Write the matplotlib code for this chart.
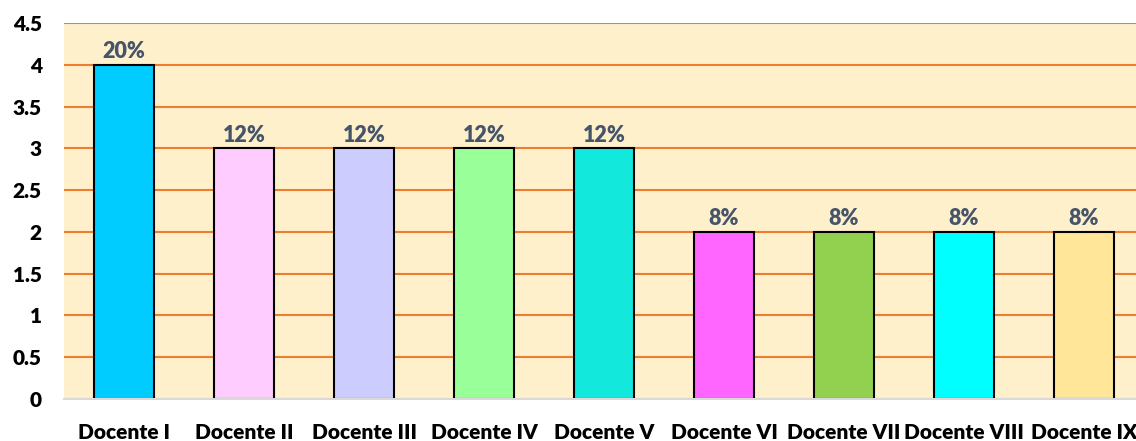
import matplotlib
matplotlib.use("Agg")
import matplotlib.pyplot as plt

categories = ["Docente I", "Docente II", "Docente III", "Docente IV", "Docente V",
              "Docente VI", "Docente VII", "Docente VIII", "Docente IX"]
values = [4, 3, 3, 3, 3, 2, 2, 2, 2]
pct_labels = ["20%", "12%", "12%", "12%", "12%", "8%", "8%", "8%", "8%"]
colors = ["#00CCFF", "#FFCCFF", "#CCCCFF", "#99FF99", "#13E8DC",
          "#FF66FF", "#92D050", "#00FFFF", "#FFE699"]
yticks = [0, 0.5, 1, 1.5, 2, 2.5, 3, 3.5, 4, 4.5]
ytick_labels = ["0", "0.5", "1", "1.5", "2", "2.5", "3", "3.5", "4", "4.5"]

plt.rcParams['font.family'] = ['Lato', 'DejaVu Sans']
fig = plt.figure(figsize=(11.36, 4.41), dpi=100)
ax = fig.add_axes([64/1136, 1-399/441, 1080/1136, 376/441])
ax.set_facecolor("#FFF0CC")
x = list(range(len(categories)))
bars = ax.bar(x, values, width=0.5, color=colors, edgecolor="black", linewidth=1.5, zorder=3)
for xi, v, lab in zip(x, values, pct_labels):
    ax.annotate(lab, (xi, v), xytext=(0, 2), textcoords="offset points",
                ha="center", va="bottom", fontsize=15.5, fontweight="heavy", color="#44546A")
ax.set_xlim(-0.5, len(categories) - 0.5)
ax.set_ylim(0, 4.5)
ax.set_yticks(yticks)
ax.set_yticklabels(ytick_labels)
ax.set_xticks(x)
ax.set_xticklabels(categories)
ax.yaxis.grid(True, color="#ED7D31", linewidth=1.5, zorder=1)
ax.set_axisbelow(True)
for s in ["left", "right", "top"]:
    ax.spines[s].set_visible(False)
ax.spines["bottom"].set_color("#D9D9D9")
ax.spines["bottom"].set_linewidth(1.5)
ax.spines["bottom"].set_zorder(4)
ax.tick_params(axis="both", length=0, labelsize=15)
ax.tick_params(axis="x", pad=17)
ax.tick_params(axis="y", pad=16)
for t in ax.get_xticklabels() + ax.get_yticklabels():
    t.set_fontweight("heavy")
fig.savefig("out.png", dpi=100)
